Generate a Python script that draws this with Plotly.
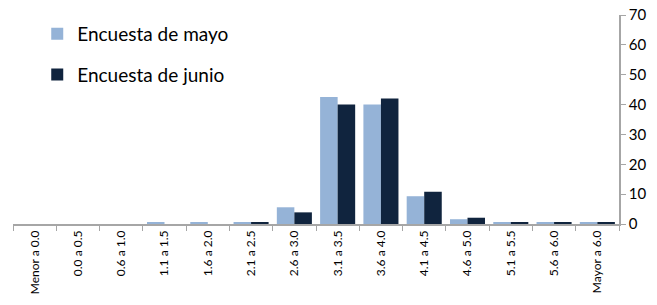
import plotly.graph_objects as go

categories = ["Menor a 0.0", "0.0 a 0.5", "0.6 a 1.0", "1.1 a 1.5", "1.6 a 2.0", "2.1 a 2.5",
              "2.6 a 3.0", "3.1 a 3.5", "3.6 a 4.0", "4.1 a 4.5", "4.6 a 5.0", "5.1 a 5.5",
              "5.6 a 6.0", "Mayor a 6.0"]
mayo = [0.0, 0.0, 0.0, 0.4, 0.4, 0.4, 5.6, 42.5, 40.0, 9.3, 1.6, 0.4, 0.4, 0.4]
junio = [0.0, 0.0, 0.0, 0.0, 0.0, 0.4, 3.9, 40.0, 42.0, 10.8, 2.1, 0.4, 0.4, 0.4]
y_ticks = [0, 10, 20, 30, 40, 50, 60, 70]

FONT = "Lato, 'Liberation Sans', sans-serif"

fig = go.Figure()
fig.add_trace(go.Bar(x=categories, y=mayo, name="Encuesta de mayo",
                     marker=dict(color="#95B3D7", line=dict(width=0)),
                     legendgroup="a"))
fig.add_trace(go.Bar(x=categories, y=junio, name="Encuesta de junio",
                     marker=dict(color="#10243E", line=dict(width=0)),
                     legendgroup="b"))

fig.update_layout(
    width=657, height=305,
    margin=dict(l=13, r=38, t=15, b=81),
    paper_bgcolor="white", plot_bgcolor="white",
    barmode="group", bargap=0.19, bargroupgap=0,
    font=dict(family=FONT, color="#000000"),
    showlegend=True,
    legend=dict(x=0.04, y=1.0, xanchor="left", yanchor="top",
                font=dict(size=19, family=FONT), tracegroupgap=13,
                bgcolor="rgba(0,0,0,0)", itemwidth=30),
    xaxis=dict(type="category", tickangle=-90, tickfont=dict(size=12, family=FONT),
               showline=True, linecolor="#A6A6A6", linewidth=1.5,
               ticks="outside", ticklen=5, tickcolor="#A6A6A6", tickson="boundaries",
               showgrid=False, zeroline=False, automargin=False),
    yaxis=dict(side="right", range=[0, 70], tickvals=y_ticks,
               tickfont=dict(size=15, family=FONT),
               showline=True, linecolor="#A6A6A6", linewidth=1.5,
               ticks="outside", ticklen=5, tickcolor="#A6A6A6",
               showgrid=False, zeroline=False, automargin=False),
)

fig.write_html("out.html", config={"displayModeBar": False},
               post_script="document.body.style.margin='0px';")
